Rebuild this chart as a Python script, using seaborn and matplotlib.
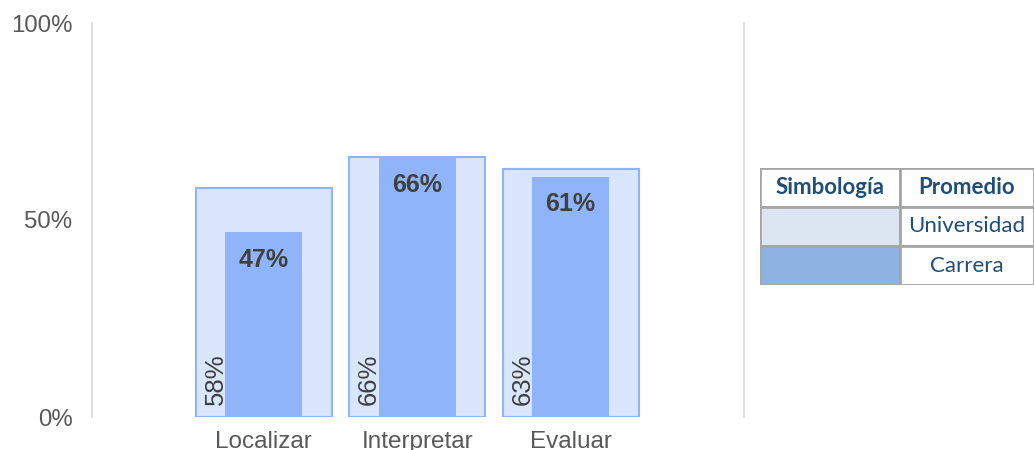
import pandas as pd
import matplotlib.pyplot as plt
import seaborn as sns
from matplotlib.patches import Rectangle

# Datos
categorias = ['Localizar', 'Interpretar', 'Evaluar']
universidad = [0.58, 0.66, 0.63]
carrera = [0.47, 0.66, 0.61]

df = pd.DataFrame({'Categoria': categorias, 'Universidad': universidad, 'Carrera': carrera})

sns.set_theme(style="white")
plt.rcParams['font.family'] = ['Liberation Sans', 'DejaVu Sans']

fig = plt.figure(figsize=(10.34, 4.5), dpi=100)
ax = fig.add_axes([92 / 1034, 1 - 417 / 450, (744 - 92) / 1034, (417 - 23) / 450])

# Barras de universidad (anchas) y carrera (angostas)
sns.barplot(data=df, x='Categoria', y='Universidad', ax=ax, width=0.886,
            color='#dae6fb', edgecolor='#8fb4f8', linewidth=1.5, saturation=1)
n_univ = len(ax.patches)
sns.barplot(data=df, x='Categoria', y='Carrera', ax=ax, width=0.5,
            color='#8fb4f9', edgecolor='none', linewidth=0, saturation=1)

bars_univ = ax.patches[:n_univ]
bars_carr = ax.patches[n_univ:]

# Etiquetas de universidad (verticales, abajo a la izquierda)
for bar, v in zip(bars_univ, universidad):
    ax.text(bar.get_x() + 0.128, 0.03, f'{v:.0%}', rotation=90, ha='center', va='bottom',
            fontsize=18.5, color='#404040')

# Etiquetas de carrera (negrita, arriba)
for bar, v in zip(bars_carr, carrera):
    ax.text(bar.get_x() + bar.get_width() / 2, v - 0.04, f'{v:.0%}', ha='center', va='top',
            fontsize=18, fontweight='bold', color='#404040')

ax.set_xlim(-1.12, 3.13)
ax.set_ylim(0, 1)
ax.set_yticks([0, 0.5, 1])
ax.set_yticklabels(['0%', '50%', '100%'])
ax.set_xlabel('')
ax.set_ylabel('')
ax.tick_params(axis='y', labelsize=17.3, labelcolor='#595959', length=0, pad=14)
ax.tick_params(axis='x', labelsize=17.5, labelcolor='#595959', length=0, pad=10)

for side in ['top', 'bottom']:
    ax.spines[side].set_visible(False)
for side in ['left', 'right']:
    ax.spines[side].set_color('#d9d9d9')
    ax.spines[side].set_linewidth(1.2)

# Tabla de simbologia
tx = fig.add_axes([760 / 1034, 1 - 285 / 450, 274 / 1034, 117 / 450])
tx.set_xlim(0, 274)
tx.set_ylim(117, 0)
tx.axis('off')
filas = [(0, 39, 'white', 'Simbología', 'Promedio', True),
         (39, 39, '#dce6f2', '', 'Universidad', False),
         (78, 39, '#8db3e2', '', 'Carrera', False)]
for y0, h, c, t1, t2, bold in filas:
    tx.add_patch(Rectangle((0, y0), 140, h, facecolor=c, edgecolor='#a6a6a6', linewidth=2))
    tx.add_patch(Rectangle((140, y0), 134, h, facecolor='white', edgecolor='#a6a6a6', linewidth=2))
    fw = 'bold' if bold else 'normal'
    if t1:
        tx.text(70, y0 + h / 2, t1, ha='center', va='center', fontsize=16, fontweight=fw,
                color='#1f4e79', family=['Lato', 'DejaVu Sans'])
    tx.text(207, y0 + h / 2, t2, ha='center', va='center', fontsize=16, fontweight=fw,
            color='#1f4e79', family=['Lato', 'DejaVu Sans'])

fig.savefig('out.png', dpi=100)
